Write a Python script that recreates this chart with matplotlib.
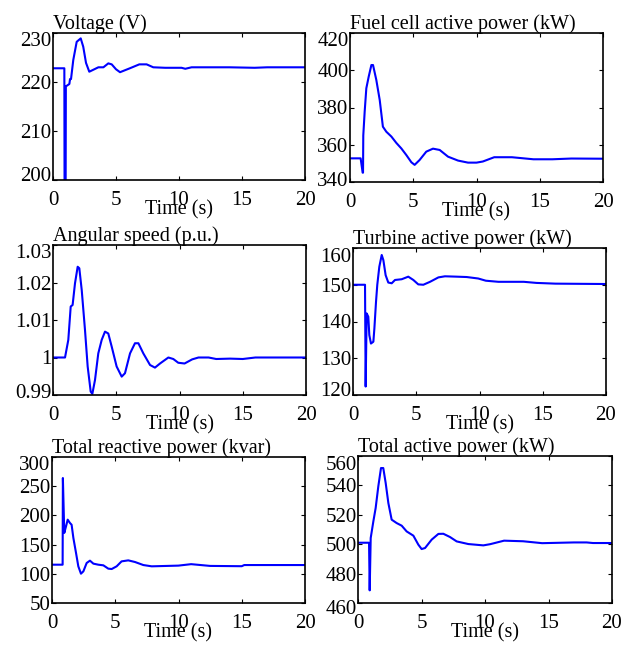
import matplotlib
matplotlib.use("Agg")
import matplotlib.pyplot as plt
from matplotlib.transforms import ScaledTranslation

plt.rcParams['font.family'] = ['Liberation Serif', 'DejaVu Serif']

# --- data (time in s) ---
volt_t = [0, 0.9, 0.92, 1.0, 1.02, 1.3, 1.35, 1.43, 1.61, 1.88, 2.2, 2.4, 2.62, 2.88, 3.2, 3.6,
          4.0, 4.39, 4.66, 5.0, 5.32, 6.1, 6.85, 7.43, 7.96, 8.9, 10.2, 10.5, 11.0, 14.0, 16.0, 17.0, 20]
volt_v = [222.8, 222.8, 195, 195, 219.1, 219.6, 220.6, 220.6, 224.5, 228.2, 228.9, 227.2, 223.9,
          222.1, 222.5, 223, 223, 223.8, 223.6, 222.6, 222, 222.8, 223.6, 223.6, 223, 222.9, 222.9,
          222.7, 223, 223, 222.9, 223, 223]

fuel_t = [0, 0.84, 1.0, 1.03, 1.05, 1.16, 1.29, 1.48, 1.69, 1.82, 2.08, 2.35, 2.6, 2.87, 3.27,
          3.66, 4.06, 4.45, 4.85, 5.11, 5.5, 6.03, 6.56, 7.09, 7.75, 8.54, 9.33, 10.0, 10.5, 11.4,
          12.8, 14.5, 16.0, 17.5, 20]
fuel_v = [352.7, 352.7, 345, 345, 365, 377.8, 390.3, 396.6, 402.8, 402.8, 394.8, 384, 369.7, 367,
          364.4, 361, 358, 354.5, 350.6, 349.2, 351.8, 356.3, 357.9, 357.2, 353.6, 351.5, 350.4,
          350.4, 351, 353.3, 353.3, 352.2, 352.2, 352.6, 352.5]

ang_t = [0, 0.95, 1.21, 1.4, 1.55, 1.74, 1.95, 2.08, 2.27, 2.53, 2.74, 2.98, 3.11, 3.32, 3.58,
         3.85, 4.11, 4.37, 4.64, 5.03, 5.43, 5.69, 6.09, 6.48, 6.75, 7.14, 7.67, 8.06, 8.46, 9.12,
         9.51, 9.9, 10.4, 11.0, 11.5, 12.3, 12.9, 14.0, 15.0, 16.0, 20]
ang_v = [1.0, 1.0, 1.0047, 1.0136, 1.014, 1.0198, 1.0242, 1.0238, 1.018, 1.0073, 0.9976, 0.9909,
         0.9903, 0.994, 1.0011, 1.0047, 1.0069, 1.0064, 1.0029, 0.9976, 0.9949, 0.9958, 1.0011,
         1.0038, 1.0038, 1.0011, 0.998, 0.9973, 0.9984, 1.0, 0.9996, 0.9986, 0.9984, 0.9995, 1.0,
         1.0, 0.9996, 0.9997, 0.9996, 1.0, 1.0]

turb_t = [0, 0.95, 1.0, 1.08, 1.21, 1.29, 1.42, 1.61, 1.69, 1.82, 1.92, 2.08, 2.27, 2.4, 2.58,
          2.79, 3.06, 3.32, 3.85, 4.37, 4.77, 5.16, 5.56, 6.09, 6.75, 7.27, 8.2, 8.99, 9.9, 10.5,
          11.5, 13.5, 14.5, 16.0, 20]
turb_v = [150, 150, 122.3, 142.2, 141.3, 136.3, 134, 134.5, 138.1, 145.4, 150, 154.9, 158.1, 156.7,
          152.6, 150.6, 150.4, 151.3, 151.5, 152.2, 151.3, 150.1, 150, 150.8, 152, 152.3, 152.2,
          152.1, 151.7, 151.1, 150.8, 150.8, 150.5, 150.3, 150.2]

react_t = [0, 0.84, 0.86, 0.97, 1.11, 1.24, 1.42, 1.55, 1.69, 1.9, 2.08, 2.29, 2.48, 2.74, 3.0,
           3.27, 3.66, 4.06, 4.45, 4.72, 5.11, 5.5, 6.03, 6.56, 7.22, 7.88, 9.99, 11.0, 12.5,
           15.0, 15.2, 20]
react_v = [115.6, 115.6, 264, 170, 181.3, 192.7, 187, 184, 161.3, 135.6, 112.8, 100.2, 104.2,
           118.5, 122.5, 117.4, 115.6, 114.5, 108.8, 108.2, 112.8, 121.3, 123, 120.2, 115, 112.8,
           114, 116.5, 113.5, 113, 115, 115]

tot_t = [0, 0.87, 0.92, 1.0, 1.21, 1.39, 1.6, 1.81, 1.99, 2.18, 2.39, 2.65, 3.04, 3.44, 3.83,
         4.36, 4.75, 5.01, 5.28, 5.8, 6.33, 6.72, 7.24, 7.77, 8.69, 9.87, 10.4, 11.5, 13.0, 14.5,
         17.0, 18.0, 18.5, 20]
tot_v = [501, 501, 468.6, 504.2, 515.6, 524.6, 539.4, 551.8, 551.8, 541.6, 528, 516.7, 514.4,
         512.6, 508.7, 505.8, 499.7, 496.7, 497.4, 503.1, 507, 507.1, 504.9, 501.9, 500.1, 499.2,
         500, 502.4, 502, 500.7, 501.2, 501.2, 500.8, 500.8]

titles = ['Voltage (V)', 'Fuel cell active power (kW)', 'Angular speed (p.u.)',
          'Turbine active power (kW)', 'Total reactive power (kvar)', 'Total active power (kW)']
series = [(volt_t, volt_v), (fuel_t, fuel_v), (ang_t, ang_v),
          (turb_t, turb_v), (react_t, react_v), (tot_t, tot_v)]
yticks = [[200, 210, 220, 230],
          [340, 360, 380, 400, 420],
          [0.99, 1.0, 1.01, 1.02, 1.03],
          [120, 130, 140, 150, 160],
          [50, 100, 150, 200, 250, 300],
          [460, 480, 500, 520, 540, 560]]
ytick_labels = [['200', '210', '220', '230'],
                ['340', '360', '380', '400', '420'],
                ['0.99', '1', '1.01', '1.02', '1.03'],
                ['120', '130', '140', '150', '160'],
                ['50', '100', '150', '200', '250', '300'],
                ['460', '480', '500', '520', '540', '560']]
xticks = [0, 5, 10, 15, 20]

W, H = 630, 646
# axes boxes in pixels: left, top, right, bottom
boxes = [(53, 33, 305, 180), (350, 33, 603, 182),
         (53, 245, 306, 395), (353, 248, 606, 395),
         (52, 457, 305, 603), (358, 456, 612, 603)]
# vertical nudge (px, + = down) of the lowest y tick label, as in the reference
bottom_shift = [-6, -3, -4, -6, 0, 4.5]

fig = plt.figure(figsize=(W / 100, H / 100), dpi=100)

for (l, t, r, b), title, (xs, ys), yt, ytl, bs in zip(boxes, titles, series, yticks,
                                                      ytick_labels, bottom_shift):
    ax = fig.add_axes([l / W, 1 - b / H, (r - l) / W, (b - t) / H])
    ax.plot(xs, ys, color='#0000ff', linewidth=1.5)
    ax.set_xlim(0, 20)
    ax.set_ylim(yt[0], yt[-1])
    ax.set_xticks(xticks)
    ax.set_xticklabels([str(x) for x in xticks])
    ax.set_yticks(yt)
    ax.set_yticklabels(ytl)
    ax.tick_params(direction='in', top=True, right=True, length=3, width=0.8, labelsize=15)
    ax.tick_params(axis='x', pad=8)
    ax.tick_params(axis='y', pad=1)
    for s in ax.spines.values():
        s.set_linewidth(1.2)
    ax.set_title(title, loc='left', fontsize=14.5, pad=3)
    ax.set_xlabel('Time (s)', fontsize=14.5, labelpad=-7)

    ticks = ax.yaxis.get_major_ticks()
    top_lab = ticks[-1].label1
    top_lab.set_transform(top_lab.get_transform() + ScaledTranslation(0, -6.5 / 100, fig.dpi_scale_trans))
    bot_lab = ticks[0].label1
    bot_lab.set_transform(bot_lab.get_transform() + ScaledTranslation(0, -bs / 100, fig.dpi_scale_trans))

fig.savefig('out.png', dpi=100)
